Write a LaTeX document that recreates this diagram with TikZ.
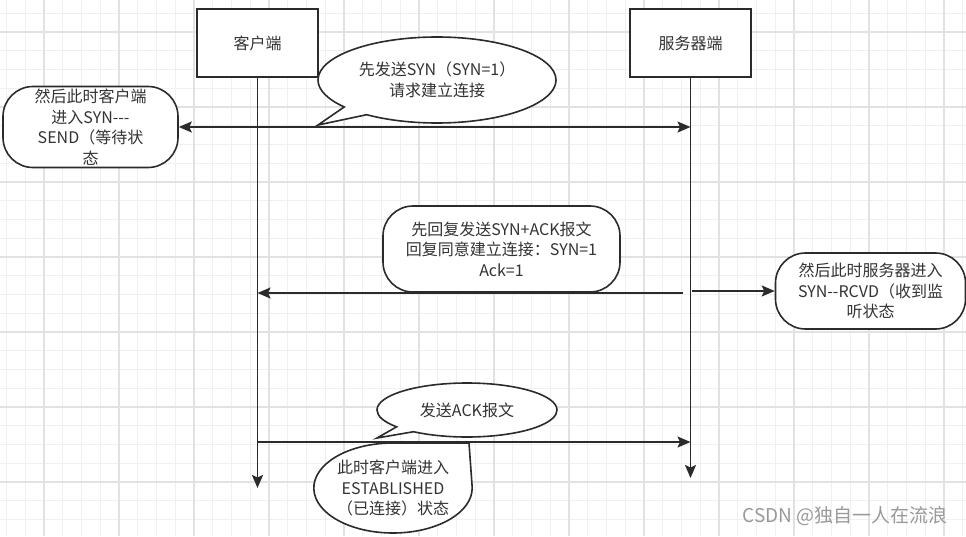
\documentclass[tikz,border=0pt]{standalone}
\usepackage{fontspec}
\setmainfont{Noto Sans CJK SC}
\usetikzlibrary{arrows.meta,shapes.callouts}
\definecolor{inkline}{HTML}{2B2B2B}
\definecolor{inktext}{HTML}{333333}
\definecolor{gridminor}{HTML}{F0F0F0}
\definecolor{gridmajor}{HTML}{E2E2E2}
\tikzstyle{endbox}=[rectangle,draw=inkline,fill=white,line width=2pt,
                    minimum width=121pt,minimum height=68pt,inner sep=0pt]
\tikzstyle{statebox}=[rectangle,rounded corners=30pt,draw=inkline,fill=white,
                      line width=1.6pt,align=center,inner sep=0pt]
\tikzstyle{bubble}=[ellipse callout,draw=inkline,fill=white,
                    line width=1.6pt,align=center,inner sep=0pt]
\tikzstyle{life}=[draw=inkline,line width=1.8pt,
                  -{Stealth[length=13pt,width=11pt,inset=2.5pt]}]
\tikzstyle{msg}=[draw=inkline,line width=1.6pt,
                 -{Stealth[length=13pt,width=11pt,inset=2.5pt]}]
\newcommand{\dsh}{-\kern0pt}

\begin{document}
\begin{tikzpicture}[x=1pt,y=-1pt,font=\fontsize{16}{20.5}\selectfont,text=inktext]
    \useasboundingbox (0,0) rectangle (966,536);
    \fill[white] (0,0) rectangle (966,536);
    \foreach \gx in {0,...,51}
      \draw[gridminor,line width=1pt] ({6.5+18.75*\gx},0) -- ({6.5+18.75*\gx},536);
    \foreach \gy in {0,...,27}
      \draw[gridminor,line width=1pt] (0,{13+18.75*\gy}) -- (966,{13+18.75*\gy});
    \foreach \gx in {0,...,12}
      \draw[gridmajor,line width=1.2pt] ({44+75*\gx},0) -- ({44+75*\gx},536);
    \foreach \gy in {0,...,6}
      \draw[gridmajor,line width=1.2pt] (0,{32+75*\gy}) -- (966,{32+75*\gy});

    \node (cli) at (257.5,43) [endbox]{客户端};
    \node (srv) at (690.5,43) [endbox]{服务器端};
    \coordinate (cliend) at (257.5,488);
    \coordinate (srvend) at (690.5,478);
    \draw[life] (cli) -- (cliend);
    \draw[life] (srv) -- (srvend);

    \node (sendst) at (90.5,127) [statebox,minimum width=175pt,minimum height=81pt]
      {然后此时客户端\\进入SYN\dsh\dsh\dsh\\SEND（等待状\\态};
    \node (syn) at (437,80) [bubble,minimum width=238pt,minimum height=86pt,
      callout absolute pointer={(318,125)}]{先发送SYN（SYN=1）\\请求建立连接};
    \coordinate (c1) at (257.5,127);
    \coordinate (s1) at (690.5,127);
    \draw[msg] (c1) -- (s1);
    \draw[msg] (c1) -- (sendst.east);

    \node (synack) at (501.5,249) [statebox,minimum width=237pt,minimum height=86pt]
      {先回复发送SYN+ACK报文\\回复同意建立连接：SYN=1\\Ack=1};
    \node (rcvd) at (870.5,291) [statebox,minimum width=190pt,minimum height=76pt]
      {然后此时服务器进入\\SYN\dsh\dsh RCVD（收到监\\听状态};
    \coordinate (s2) at (683,293);
    \coordinate (c2) at (257.5,293);
    \coordinate (s2r) at (692,291);
    \draw[msg] (s2) -- (c2);
    \draw[msg] (s2r) -- (rcvd.west);

    \node (ack) at (467,410) [bubble,minimum width=180pt,minimum height=54pt,
      callout absolute pointer={(377,438)}]{发送ACK报文};
    \node (estab) at (393,488) [bubble,minimum width=154pt,minimum height=90pt,
      callout absolute pointer={(469,443)},callout pointer arc=90]
      {此时客户端进入\\ESTABLISHED\\（已连接）状态};
    \coordinate (c3) at (257.5,442);
    \coordinate (s3) at (690.5,442);
    \draw[msg] (c3) -- (s3);

    \node (mark) at (845,516) [text=black!40,font=\fontsize{19}{22}\selectfont]
      {CSDN @独自一人在流浪};
\end{tikzpicture}
\end{document}
